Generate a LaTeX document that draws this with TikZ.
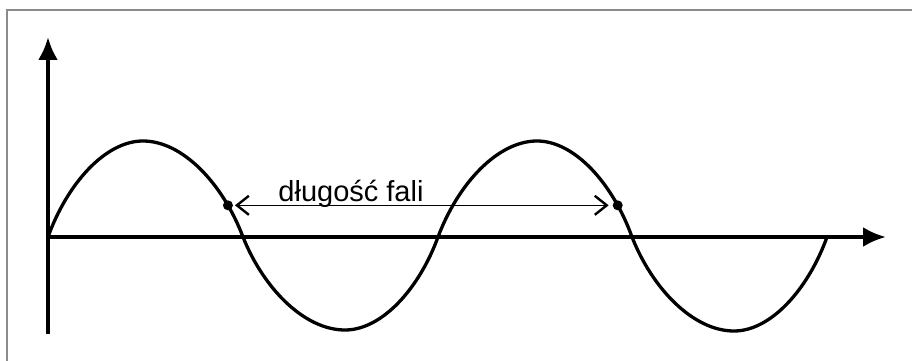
\documentclass[tikz,border=0pt]{standalone}
\usepackage{fontspec}
\setmainfont{Liberation Sans}
\usetikzlibrary{arrows.meta}
\definecolor{framegray}{HTML}{8C8C8C}
\tikzset{
  axisline/.style={line width=4pt, -{Latex[length=23pt,width=20pt]}},
  waveline/.style={line width=3.3pt, line join=round},
  framelines/.style={framegray, line width=1.6pt},
  dotmark/.style={circle, fill=black, inner sep=0pt, minimum size=10pt},
  lenarrow/.style={line width=1.6pt, {Straight Barb[length=12pt,width=19pt,line width=2.4pt]}-{Straight Barb[length=12pt,width=19pt,line width=2.4pt]}, shorten <=7pt, shorten >=9pt},
  lbl/.style={font=\fontsize{29}{34}\selectfont, inner sep=0pt, anchor=base}
}
\begin{document}
\begin{tikzpicture}[x=1pt,y=-1pt]
\useasboundingbox (0,0) rectangle (912,361);
% frame (top and left edges)
\coordinate (fbl) at (7,361);
\coordinate (ftl) at (7,10);
\coordinate (ftr) at (912,10);
\draw[framelines] (fbl) -- (ftl) -- (ftr);
% axes
\coordinate (o) at (48,237);
\coordinate (ybot) at (48,334);
\coordinate (ytop) at (48,37);
\coordinate (xend) at (886,237);
\draw[axisline] (ybot) -- (ytop);
\draw[axisline] (o) -- (xend);
% wave
\draw[waveline] (o)
  .. controls (67,184.2) and (105,141) .. (143,141)
  .. controls (183,141) and (223,184.2) .. (243,237) coordinate[pos=0.79] (d1)
  .. controls (263.4,288.15) and (304.2,330) .. (345,330)
  .. controls (382.2,330) and (419.4,288.15) .. (438,237)
  .. controls (457.8,184.2) and (497.4,141) .. (537,141)
  .. controls (575,141) and (613,184.2) .. (632,237) coordinate[pos=0.79] (d2)
  .. controls (652.4,288.7) and (693.2,331) .. (734,331)
  .. controls (771.2,331) and (808.4,288.7) .. (827,237);
% wavelength markers
\node[dotmark] (p1) at (d1) {};
\node[dotmark] (p2) at (d2) {};
\draw[lenarrow] (d1) -- (d2);
\node[lbl] (label) at (351,201) {długość fali};
\end{tikzpicture}
\end{document}
